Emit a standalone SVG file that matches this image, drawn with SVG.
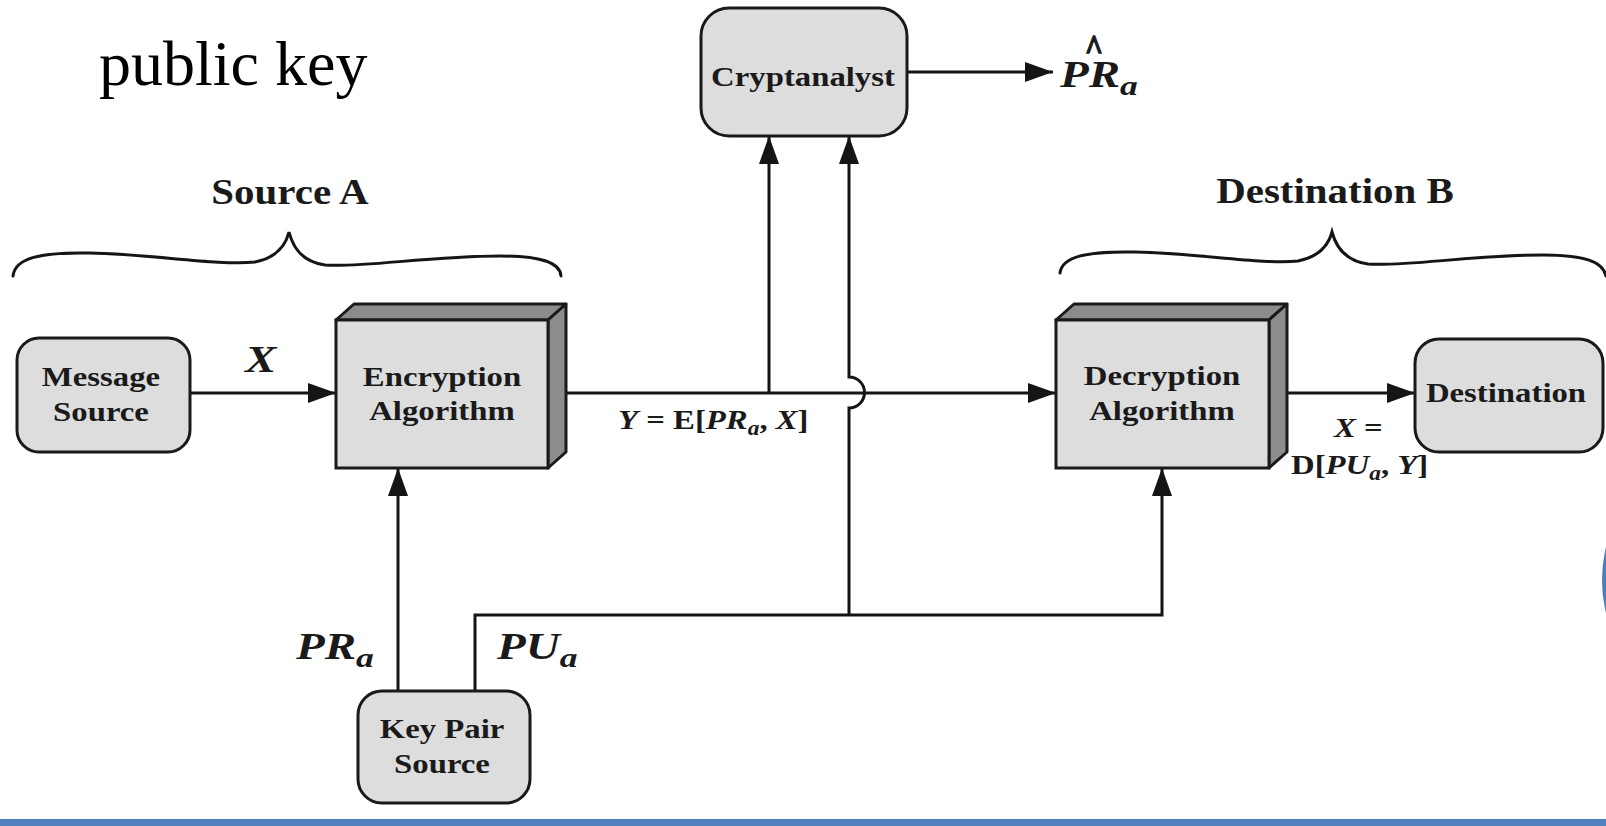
<svg xmlns="http://www.w3.org/2000/svg" width="1606" height="826" viewBox="0 0 1606 826">
  <defs>
    <marker id="arrow" markerUnits="userSpaceOnUse" markerWidth="28" markerHeight="20" refX="28" refY="10" orient="auto">
      <path d="M0,0 L28,10 L0,20 z" fill="#151515"/>
    </marker>
    <style>
      .box { fill: #dddddd; stroke: #1a1a1a; stroke-width: 3; }
      .bevel { fill: #8c8c8c; stroke: #1a1a1a; stroke-width: 3; stroke-linejoin: round; }
      .wire { fill: none; stroke: #151515; stroke-width: 3; }
      .brace { fill: none; stroke: #151515; stroke-width: 3; stroke-linecap: round; }
      .lbl { font-family: "Liberation Serif", "Times New Roman", serif; font-weight: bold; font-size: 28px; fill: #1a1a1a; text-anchor: middle; }
      .head { font-family: "Liberation Serif", "Times New Roman", serif; font-weight: bold; font-size: 35px; fill: #1a1a1a; text-anchor: middle; }
      .math { font-family: "Liberation Serif", "Times New Roman", serif; font-weight: bold; font-size: 28px; fill: #1a1a1a; }
      .big { font-size: 37px; }
      .it { font-style: italic; }
      .sub { font-style: italic; font-size: 20px; }
      .bigsub { font-style: italic; font-size: 28px; }
    </style>
  </defs>

  <rect width="1606" height="826" fill="#ffffff"/>

  <!-- slide title -->
  <text x="99" y="85" font-family="Liberation Serif, Times New Roman, serif" font-size="64" fill="#000">public key</text>

  <!-- group braces -->
  <g id="source-a">
    <path class="brace" d="M13,276 C15,258 40,252 90,253 C150,254 220,266 255,262 C275,258 285,248 289,232 C293,248 303,262 325,265 C360,268 430,256 500,256 C540,256 560,262 561,276"/>
    <text class="head" transform="translate(290,204) scale(1.17,1)">Source A</text>
  </g>
  <g id="destination-b">
    <path class="brace" d="M1060,273 C1062,257 1085,251 1135,252 C1195,253 1265,265 1298,261 C1318,257 1328,247 1332,232 C1336,247 1346,261 1368,264 C1403,267 1473,255 1543,255 C1583,255 1603,261 1606,276"/>
    <text class="head" transform="translate(1335,203) scale(1.17,1)">Destination B</text>
  </g>

  <!-- connectors -->
  <g id="connectors">
    <path class="wire" d="M190,393 H336" marker-end="url(#arrow)"/>
    <path class="wire" d="M560,393 H1056" marker-end="url(#arrow)"/>
    <path class="wire" d="M769,393 V136" marker-end="url(#arrow)"/>
    <path class="wire" d="M1276,393 H1415" marker-end="url(#arrow)"/>
    <path class="wire" d="M907,72 H1053" stroke-width="4.5" marker-end="url(#arrow)"/>
    <path class="wire" d="M398,691 V468" marker-end="url(#arrow)"/>
    <path class="wire" d="M475,691 V615 H1162 V468" marker-end="url(#arrow)"/>
    <path class="wire" d="M849,615 V408 A15.5,15.5 0 0 0 849,377 V136" marker-end="url(#arrow)"/>
  </g>

  <!-- nodes -->
  <g id="message-source">
    <rect class="box" x="17" y="338" width="173" height="114" rx="22"/>
    <text class="lbl" transform="translate(101,386) scale(1.17,1)">Message</text>
    <text class="lbl" transform="translate(101,421) scale(1.17,1)">Source</text>
  </g>

  <g id="encryption-algorithm">
    <polygon class="bevel" points="336,320 354,304 566,304 548,320"/>
    <polygon class="bevel" points="548,320 566,304 566,452 548,468"/>
    <rect class="box" x="336" y="320" width="212" height="148"/>
    <text class="lbl" transform="translate(442,386) scale(1.17,1)">Encryption</text>
    <text class="lbl" transform="translate(442,420) scale(1.17,1)">Algorithm</text>
  </g>

  <g id="decryption-algorithm">
    <polygon class="bevel" points="1056,320 1074,304 1287,304 1269,320"/>
    <polygon class="bevel" points="1269,320 1287,304 1287,452 1269,468"/>
    <rect class="box" x="1056" y="320" width="213" height="148"/>
    <text class="lbl" transform="translate(1162,385) scale(1.17,1)">Decryption</text>
    <text class="lbl" transform="translate(1162,420) scale(1.17,1)">Algorithm</text>
  </g>

  <g id="destination">
    <rect class="box" x="1415" y="339" width="188" height="113" rx="24"/>
    <text class="lbl" transform="translate(1506,402) scale(1.17,1)">Destination</text>
  </g>

  <g id="cryptanalyst">
    <rect class="box" x="701" y="8" width="206" height="128" rx="28"/>
    <text class="lbl" transform="translate(803,86) scale(1.17,1)">Cryptanalyst</text>
  </g>

  <g id="key-pair-source">
    <rect class="box" x="358" y="691" width="172" height="112" rx="24"/>
    <text class="lbl" transform="translate(442,738) scale(1.17,1)">Key Pair</text>
    <text class="lbl" transform="translate(442,773) scale(1.17,1)">Source</text>
  </g>

  <!-- connector labels -->
  <g id="labels">
    <text class="math big it" transform="translate(245,372) scale(1.27,1)">X</text>
    <text class="math" transform="translate(618,429) scale(1.17,1)"><tspan class="it">Y</tspan> = E[<tspan class="it">PR</tspan><tspan class="sub" dy="6">a</tspan><tspan dy="-6">, </tspan><tspan class="it">X</tspan>]</text>
    <text class="math big" transform="translate(1060,87) scale(1.27,1)"><tspan class="it">PR</tspan><tspan class="bigsub" dy="8">a</tspan></text>
    <text class="math" transform="translate(1094,60) scale(1.1,1.25)" font-size="38" text-anchor="middle" stroke="#1a1a1a" stroke-width="1.2">^</text>
    <text class="math big" transform="translate(296,659) scale(1.27,1)"><tspan class="it">PR</tspan><tspan class="bigsub" dy="8">a</tspan></text>
    <text class="math big" transform="translate(497,659) scale(1.27,1)"><tspan class="it">PU</tspan><tspan class="bigsub" dy="8">a</tspan></text>
    <text class="math" transform="translate(1334,437) scale(1.17,1)"><tspan class="it">X</tspan> =</text>
    <text class="math" transform="translate(1291,474) scale(1.17,1)">D[<tspan class="it">PU</tspan><tspan class="sub" dy="6">a</tspan><tspan dy="-6">, </tspan><tspan class="it">Y</tspan>]</text>
  </g>

  <!-- slide decoration -->
  <circle cx="1741" cy="580" r="139" fill="#4a7ebb"/>
  <rect x="0" y="819" width="1606" height="7" fill="#4f81bd"/>
</svg>
